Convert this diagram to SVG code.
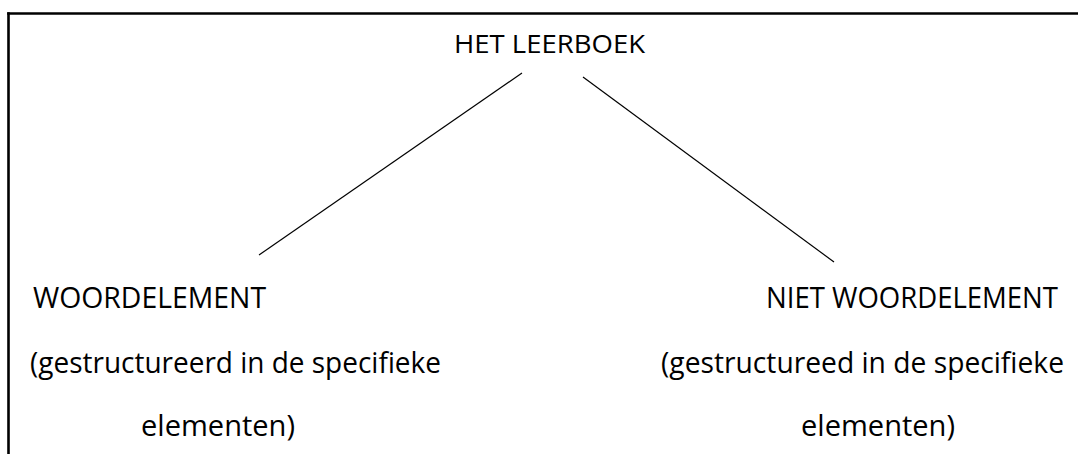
<svg xmlns="http://www.w3.org/2000/svg" width="1078" height="454" viewBox="0 0 1078 454">
  <style>
    .frame { stroke: #000; stroke-width: 2.6; fill: none; }
    .edge { stroke: #000; stroke-width: 1.2; fill: none; }
    .label { font-family: "Open Sans", "Noto Sans", "Liberation Sans", sans-serif; fill: #000; }
    .title { font-size: 25.5px; }
    .body { font-size: 29px; }
  </style>
  <rect width="1078" height="454" fill="#fff"/>

  <!-- page frame: top and left rules -->
  <g id="frame">
    <line class="frame" x1="7.2" y1="13.5" x2="1078" y2="13.5"/>
    <line class="frame" x1="8.5" y1="12.2" x2="8.5" y2="454"/>
  </g>

  <!-- connectors from the root to both branches -->
  <g id="connectors">
    <line class="edge" x1="522" y1="73" x2="259" y2="255"/>
    <line class="edge" x1="583" y1="77" x2="834" y2="262"/>
  </g>

  <g id="node-root">
    <text class="label title" x="454" y="53" textLength="191" lengthAdjust="spacingAndGlyphs">HET LEERBOEK</text>
  </g>

  <g id="node-woordelement">
    <text class="label body" x="33" y="308" textLength="233" lengthAdjust="spacingAndGlyphs">WOORDELEMENT</text>
    <text class="label body" x="30" y="373" textLength="411" lengthAdjust="spacingAndGlyphs">(gestructureerd in de specifieke</text>
    <text class="label body" x="141" y="436" textLength="154" lengthAdjust="spacingAndGlyphs">elementen)</text>
  </g>

  <g id="node-niet-woordelement">
    <text class="label body" x="766" y="308" textLength="292" lengthAdjust="spacingAndGlyphs">NIET WOORDELEMENT</text>
    <text class="label body" x="661" y="373" textLength="403" lengthAdjust="spacingAndGlyphs">(gestructureed in de specifieke</text>
    <text class="label body" x="801" y="436" textLength="154" lengthAdjust="spacingAndGlyphs">elementen)</text>
  </g>
</svg>
